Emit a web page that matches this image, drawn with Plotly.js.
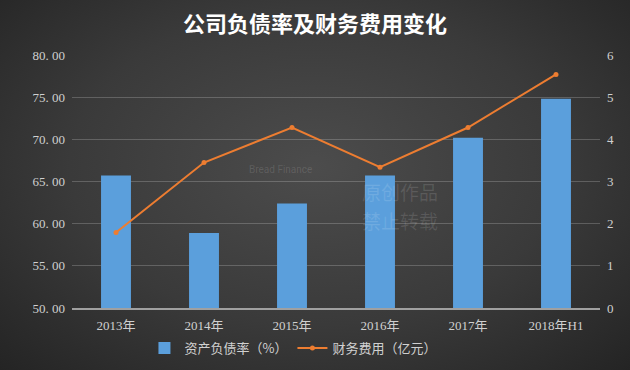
<!DOCTYPE html>
<html>
<head>
<meta charset="utf-8">
<script src="https://cdn.plot.ly/plotly-3.0.1.min.js"></script>
<style>
html,body{margin:0;padding:0;}
#chart{width:630px;height:370px;background:radial-gradient(ellipse at 50% 45%, #4c4c4c 0%, #3a3a3a 55%, #242424 100%);}
</style>
</head>
<body>
<div id="chart"></div>
<script>
const categories = ['2013年','2014年','2015年','2016年','2017年','2018年H1'];
const debtRatio = [65.7, 58.9, 62.4, 65.7, 70.2, 74.8];
const financeCost = [1.79, 3.45, 4.28, 3.34, 4.28, 5.54];
const leftTicks = [50,55,60,65,70,75,80];
const leftTickText = ['50. 00','55. 00','60. 00','65. 00','70. 00','75. 00','80. 00'];

const tickFont = {family:'"Liberation Serif","DejaVu Serif","Noto Sans CJK SC",serif', size:13, color:'#d0d0d0'};

const traces = [
  {type:'bar', name:'资产负债率（%）', x:categories, y:debtRatio,
   marker:{color:'#5b9fdc', line:{width:0}}, width:0.34, yaxis:'y'},
  {type:'scatter', mode:'lines+markers', name:'财务费用（亿元）', x:categories, y:financeCost,
   line:{color:'#ed7d31', width:2}, marker:{color:'#ed7d31', size:5}, yaxis:'y2'}
];

const wm = 'rgba(255,255,255,0.12)';
const layout = {
  width:630, height:370,
  paper_bgcolor:'rgba(0,0,0,0)', plot_bgcolor:'rgba(0,0,0,0)',
  margin:{l:72, r:30, t:55, b:62, autoexpand:false},
  title:{text:'<b>公司负债率及财务费用变化</b>', x:0.5, xanchor:'center', y:0.935, yanchor:'middle',
         font:{family:'"Noto Sans CJK SC",sans-serif', size:22, color:'#ffffff'}},
  xaxis:{type:'category', showgrid:false, showline:true, linecolor:'#a0a0a0', linewidth:1.5,
         tickfont:tickFont, ticks:'', zeroline:false, ticklabelstandoff:5},
  yaxis:{range:[50,80], tickvals:leftTicks, ticktext:leftTickText, showgrid:true,
         gridcolor:'rgba(255,255,255,0.2)', gridwidth:1, zeroline:false, showline:false,
         tickfont:tickFont, ticks:'', ticklen:0, ticklabelstandoff:6},
  yaxis2:{range:[0,6], dtick:1, overlaying:'y', side:'right', showgrid:false, zeroline:false,
          showline:false, tickfont:tickFont, ticks:'', ticklabelstandoff:6},
  showlegend:true,
  legend:{orientation:'h', xref:'container', x:0.465, xanchor:'center', yref:'container', y:0.1, yanchor:'top',
          font:{family:'"Noto Sans CJK SC","Liberation Serif",serif', size:13, color:'#d0d0d0'},
          bgcolor:'rgba(0,0,0,0)', itemwidth:30},
  annotations:[
    {text:'Bread Finance', xref:'paper', yref:'paper', x:0.394, y:0.549, xanchor:'center', yanchor:'middle', showarrow:false,
     font:{family:'Roboto,sans-serif', size:10, color:wm}},
    {text:'原创作品', xref:'paper', yref:'paper', x:0.545, y:0.46, xanchor:'left', yanchor:'middle', showarrow:false,
     font:{family:'"Noto Sans CJK SC",sans-serif', size:19, color:wm}},
    {text:'禁止转载', xref:'paper', yref:'paper', x:0.545, y:0.345, xanchor:'left', yanchor:'middle', showarrow:false,
     font:{family:'"Noto Sans CJK SC",sans-serif', size:19, color:wm}}
  ]
};

Plotly.newPlot('chart', traces, layout, {displayModeBar:false, staticPlot:true});
</script>
</body>
</html>
